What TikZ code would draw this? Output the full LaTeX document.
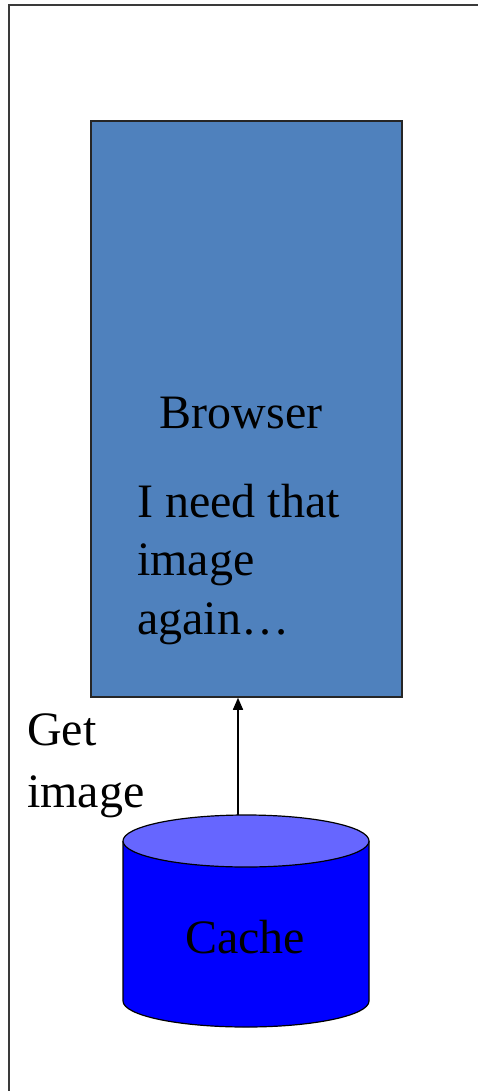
\documentclass[tikz,border=0pt]{standalone}
\usepackage{fontspec}
\setmainfont{Liberation Serif}
\usetikzlibrary{arrows.meta}
\definecolor{panelblue}{HTML}{4F81BD}
\definecolor{cachetopfill}{HTML}{6666FF}
\definecolor{cachebody}{HTML}{0000FF}
\definecolor{framegray}{HTML}{3A3A3A}
\begin{document}
\begin{tikzpicture}[x=1pt,y=-1pt,
  txt/.style={font=\fontsize{48}{58.5}\selectfont, inner sep=0pt, text=black},
  panel/.style={draw=black!85, line width=1.5pt, fill=panelblue},
  link/.style={line width=1.4pt, -{Triangle[length=12pt,width=10pt]}},
  outline/.style={draw=black, line width=1.2pt}]
\useasboundingbox (0,0) rectangle (477,1091);

% outer frame (only the top and left edges fall inside the page)
\draw[framegray, line width=2pt] (9,1100) -- (9,5) -- (490,5);

% browser panel
\node[panel, minimum width=311pt, minimum height=576pt] (browser) at (246.5,409) {};
\node[txt, anchor=base] (title) at (241,428) {Browser};
% multi-line node: its base anchor sits on the last line
\node[txt, anchor=base west, align=left] (msg) at (137,634) {I need that\\image\\again…};

% cache cylinder
\fill[cachebody] (123,841) -- (123,1001)
  arc[start angle=180, end angle=360, x radius=123pt, y radius=26pt] -- (369,841) -- cycle;
\draw[outline] (123,841) -- (123,1001)
  arc[start angle=180, end angle=360, x radius=123pt, y radius=26pt] -- (369,841);
\draw[outline, fill=cachetopfill] (246,841) ellipse [x radius=123pt, y radius=26pt];
\node[txt, anchor=base] (cache) at (245,953) {Cache};
\coordinate (cachetop) at (238,815);

% request arrow
\draw[link] (cachetop) -- (cachetop |- browser.south);
\node[txt, anchor=base west, align=left, font=\fontsize{48}{62}\selectfont] (getlbl) at (27,807) {Get\\image};
\end{tikzpicture}
\end{document}
